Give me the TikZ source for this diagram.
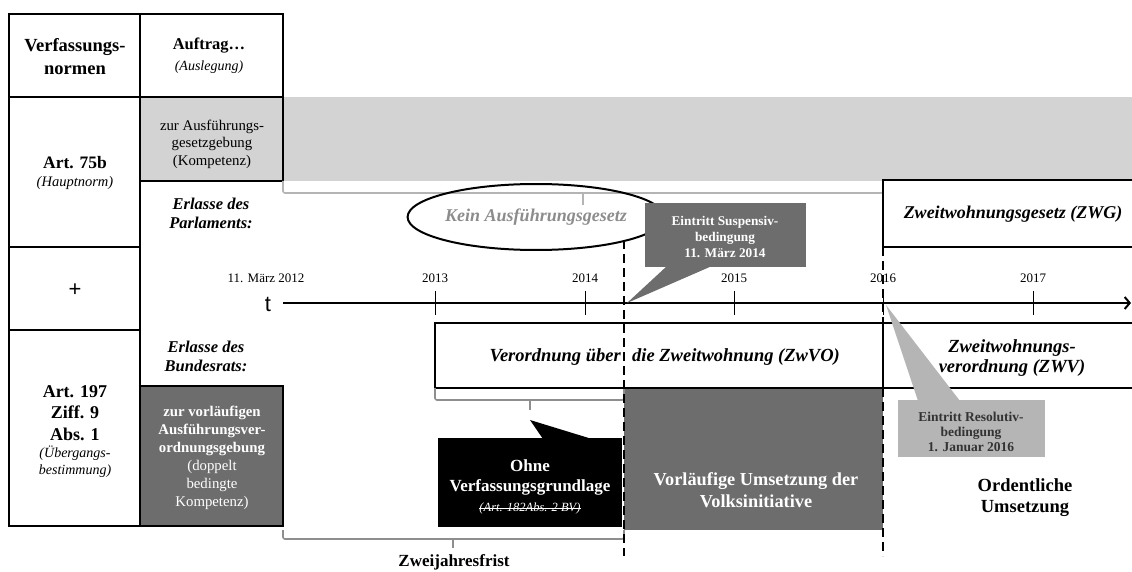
\documentclass[tikz,border=0pt]{standalone}
\usepackage{fontspec}
\setmainfont{Liberation Serif}
\newfontfamily\arialf{Liberation Sans}
\usetikzlibrary{shapes.geometric,arrows.meta}
\definecolor{bandgray}{HTML}{D3D3D3}
\definecolor{darkbox}{HTML}{6D6D6D}
\definecolor{lightcall}{HTML}{B5B5B5}
\definecolor{bracelight}{HTML}{B4B4B4}
\definecolor{bracedark}{HTML}{8E8E8E}
\definecolor{elltext}{HTML}{8C8C8C}
\newcommand{\fs}[2]{\fontsize{#1}{#2}\selectfont}
\tikzset{
  tbl/.style={draw=black, line width=1.3pt},
  boxline/.style={draw=black, line width=2.4pt},
  dashline/.style={draw=black, line width=2.6pt, dash pattern=on 9pt off 5pt},
  txt/.style={align=center, inner sep=0pt},
  bracel/.style={draw=bracelight, line width=1.6pt, rounded corners=2pt},
  braced/.style={draw=bracedark, line width=1.6pt, rounded corners=2pt},
  ticks/.style={draw=black, line width=0.9pt},
}
\begin{document}
\begin{tikzpicture}[x=1pt,y=-1pt]
\useasboundingbox (0,0) rectangle (1132,572);
% gray band
\fill[bandgray] (283,97) rectangle (1132,181);
% table
\draw[tbl] (9,14) rectangle (140,97);
\draw[tbl] (140,14) rectangle (283,97);
\draw[tbl] (9,97) rectangle (140,247);
\draw[tbl] (9,247) rectangle (140,330);
\draw[tbl] (9,330) rectangle (140,526);
\filldraw[tbl, fill=bandgray] (140,97) rectangle (283,181);
\filldraw[tbl, fill=darkbox] (140,386) rectangle (283,526);
% table texts
\node[txt, font=\bfseries\fs{18.5}{23}] (verf) at (75,57) {Verfassungs-\\normen};
\node[txt, font=\bfseries\fs{16.5}{23}] (auftrag) at (209,46) {Auftrag\ldots};
\node[txt, font=\itshape\fs{14}{18}] (ausl) at (209,67) {(Auslegung)};
\node[txt, font=\fs{14.8}{17.5}] (zurag) at (212,144) {zur Ausführungs-\\gesetzgebung\\(Kompetenz)};
\node[txt, font=\bfseries\fs{17.5}{23}] (art75) at (75,163) {Art. 75b};
\node[txt, font=\itshape\fs{14.5}{18}] (haupt) at (75,183) {(Hauptnorm)};
\node[txt, font=\bfseries\itshape\fs{16.5}{19}] (erlp) at (211,213) {Erlasse des\\Parlaments:};
\node[txt, font=\arialf\fs{22}{24}] (plus) at (75,290) {+};
\node[txt, font=\bfseries\itshape\fs{16.5}{19}] (erlb) at (206,356) {Erlasse des\\Bundesrats:};
\node[txt, font=\bfseries\fs{18}{21.5}] (art197) at (75,413) {Art. 197\\Ziff. 9\\Abs. 1};
\node[txt, font=\itshape\fs{14}{17}] (ueber) at (75,462) {(Übergangs-\\bestimmung)};
\node[txt, text=white, font=\fs{14.8}{18}] (vorlkomp) at (212,458) {\textbf{zur vorläufigen}\\\textbf{Ausführungsver-}\\\textbf{ordnungsgebung}\\(doppelt\\bedingte\\Kompetenz)};
% top brace
\draw[bracel] (283,181) -- (283,193) -- (883,193) -- (883,181);
\draw[bracel] (583,193) -- (583,205);
% ellipse
\node[ellipse, draw=black, line width=2pt, minimum width=245pt, minimum height=66pt, inner sep=0pt,
  text=elltext, font=\bfseries\itshape\fs{18}{20}] (kein) at (536,217) {Kein Ausführungsgesetz};
% ZWG box
\draw[boxline] (1133,180) -- (883,180) -- (883,247) -- (1133,247);
\node[txt, font=\bfseries\itshape\fs{18}{20}] (zwg) at (1013,214) {Zweitwohnungsgesetz (ZWG)};
% timeline
\node[txt, font=\arialf\fs{22}{24}] (t) at (268,304) {t};
\coordinate (axs) at (283,303);
\coordinate (axe) at (1131,303);
\draw[line width=1.1pt, -{Straight Barb[length=5pt,width=12pt,line width=2pt]}] (axs) -- (axe);
\foreach \x/\y in {435/2013,585/2014,734/2015,883/2016,1033/2017}{
  \draw[ticks] (\x,291) -- (\x,315);
  \node[txt, font=\fs{13}{14}] (y\y) at (\x,278) {\y};
}
\node[txt, font=\fs{13}{14}] (y2012) at (266,278) {11. März 2012};
% Vorlaeufige box
\fill[darkbox] (624,388) rectangle (883,530);
\node[txt, text=white, font=\bfseries\fs{18.3}{22}] (vorl) at (756,490) {Vorläufige Umsetzung der\\Volksinitiative};
% ZwVO box and ZWV
\draw[boxline] (435,323) rectangle (883,388);
\draw[boxline] (883,323) -- (1133,323);
\draw[boxline] (883,388) -- (1133,388);
\node[txt, anchor=east, font=\bfseries\itshape\fs{18.5}{20}] (zwvo1) at (621,357) {Verordnung über};
\node[txt, anchor=west, font=\bfseries\itshape\fs{18.5}{20}] (zwvo2) at (632,357) {die Zweitwohnung (ZwVO)};
\node[txt, font=\bfseries\itshape\fs{18.5}{20}] (zwv) at (1012,358) {Zweitwohnungs-\\verordnung (ZWV)};
% lower braces
\draw[braced] (435,388) -- (435,400) -- (624,400) -- (624,388);
\draw[braced] (530,400) -- (530,410);
\draw[braced] (283,530) -- (283,539) -- (624,539) -- (624,530);
\draw[braced] (453,539) -- (453,548);
\node[txt, font=\bfseries\fs{17}{18}] (zwei) at (454,562) {Zweijahresfrist};
% callouts
\fill[darkbox] (645,203) rectangle (806,267);
\coordinate (suspTip) at (627,303);
\fill[darkbox] (667,266) -- (712,266) -- (suspTip) -- cycle;
\node[txt, text=white, font=\bfseries\fs{13.3}{16}] (susp) at (725,237) {Eintritt Suspensiv-\\bedingung\\11. März 2014};
\fill[black] (438,438) rectangle (622,527);
\coordinate (ohneTip) at (530,420);
\fill[black] (543,439) -- (592,439) -- (ohneTip) -- cycle;
\node[txt, text=white, font=\bfseries\fs{17}{20}] (ohne) at (530,477) {Ohne\\Verfassungsgrundlage};
\node[txt, text=white, font=\itshape\fs{12.5}{13}] (artbv) at (530,508) {(Art. 182Abs. 2 BV)};
\draw[white, line width=0.8pt] ([yshift=-0.5pt]artbv.west) -- ([yshift=-0.5pt]artbv.east);
\fill[lightcall] (898,400) rectangle (1045,457);
\coordinate (resTip) at (886,305);
\fill[lightcall] (918,401) -- (960,401) -- (resTip) -- cycle;
\node[txt, text=black!80, font=\bfseries\fs{13.5}{15}] (res) at (971,432) {Eintritt Resolutiv-\\bedingung\\1. Januar 2016};
\node[txt, font=\bfseries\fs{18.5}{21}] (ord) at (1025,498) {Ordentliche\\Umsetzung};
% dashed lines
\draw[dashline] (624,240) -- (624,556);
\draw[dashline] (883,247) -- (883,323);
\draw[dashline] (883,388) -- (883,556);
\end{tikzpicture}
\end{document}
